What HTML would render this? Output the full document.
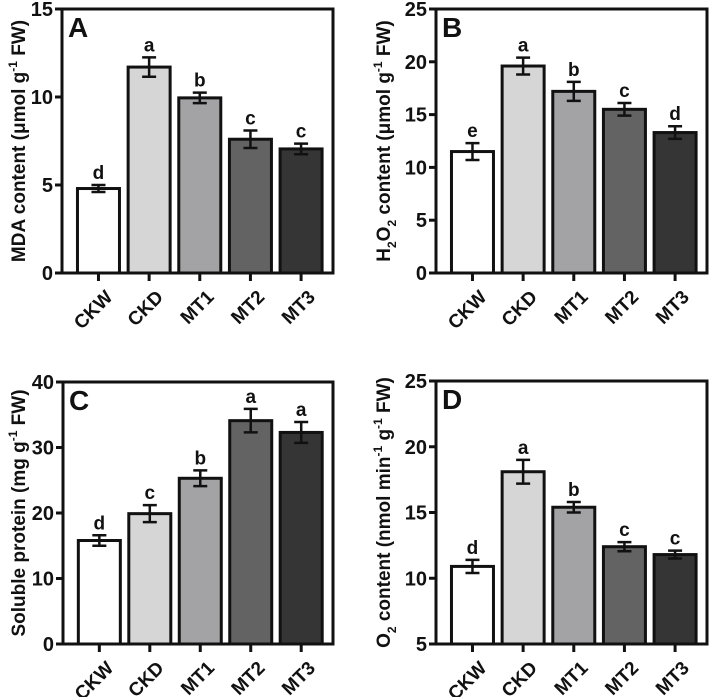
<!DOCTYPE html>
<html><head><meta charset="utf-8"><style>
body{margin:0;background:#fff}
svg{display:block;font-family:"Liberation Sans",Arial,sans-serif;font-weight:bold}
</style></head><body>
<svg id="c" width="709" height="697" viewBox="0 0 709 697"></svg>
<script>
const categories=["CKW","CKD","MT1","MT2","MT3"];
const colors=["#ffffff","#d6d6d6","#a3a3a6","#636363","#353535"];
const valuesA=[4.8,11.7,9.95,7.6,7.05];
const errA=[0.2,0.55,0.3,0.5,0.3];
const lettersA=["d","a","b","c","c"];
const ticksA=[0,5,10,15];
const valuesB=[11.5,19.6,17.2,15.5,13.3];
const errB=[0.8,0.8,0.9,0.6,0.6];
const lettersB=["e","a","b","c","d"];
const ticksB=[0,5,10,15,20,25];
const valuesC=[15.8,19.9,25.3,34.1,32.3];
const errC=[0.8,1.3,1.2,1.8,1.6];
const lettersC=["d","c","b","a","a"];
const ticksC=[0,10,20,30,40];
const valuesD=[10.9,18.1,15.4,12.4,11.8];
const errD=[0.5,0.9,0.4,0.35,0.3];
const lettersD=["d","a","b","c","c"];
const ticksD=[5,10,15,20,25];

const NS="http://www.w3.org/2000/svg";
const svg=document.getElementById('c');
function mk(tag,attrs,parent,text){const e=document.createElementNS(NS,tag);for(const k in attrs)e.setAttribute(k,attrs[k]);if(text!==undefined)e.textContent=text;parent.appendChild(e);return e;}

function panel(id,L,R,T,B,ticks,vals,errs,lets,ylabelHTML,ylx){
  const g=mk('g',{},svg);
  
  
  const y0=ticks[0],y1=ticks[ticks.length-1];
  const ys=v=>B-(v-y0)/(y1-y0)*(B-T);
  const step=(R-L)/5.35, bw=42;
  const xc=i=>L+step*(i+0.72);
  vals.forEach((v,i)=>{
    const bar=mk('rect',{x:xc(i)-bw/2,y:ys(v),width:bw,height:B-ys(v),fill:colors[i],stroke:'#111','stroke-width':3},g);
    
    
    const eb=mk('path',{d:`M${xc(i)} ${ys(v+errs[i])}V${ys(v-errs[i])}M${xc(i)-7} ${ys(v+errs[i])}H${xc(i)+7}M${xc(i)-7} ${ys(v-errs[i])}H${xc(i)+7}`,stroke:'#111','stroke-width':2.5,fill:'none'},g);
    
    
    const lt=mk('text',{x:xc(i),y:ys(v+errs[i])-6,'text-anchor':'middle','font-size':19,fill:'#111'},g,lets[i]);
    
    
    mk('line',{x1:xc(i),x2:xc(i),y1:B,y2:B+8,stroke:'#111','stroke-width':3},g);
    const cx=xc(i)+6,cy=B+16;
    const tl=mk('text',{x:cx,y:cy,'text-anchor':'end','font-size':19,fill:'#111',transform:`rotate(-45 ${cx} ${cy})`,dy:13},g,categories[i]);
    
    
  });
  const fr=mk('rect',{x:L,y:T,width:R-L,height:B-T,fill:'none',stroke:'#111','stroke-width':3},g);
  
  
  ticks.forEach(t=>{
    mk('line',{x1:L-7,x2:L,y1:ys(t),y2:ys(t),stroke:'#111','stroke-width':3},g);
    const tt=mk('text',{x:L-9,y:ys(t)+7,'text-anchor':'end','font-size':20,fill:'#111'},g,t);
    
    
  });
  const pl=mk('text',{x:L+6,y:T+28,'font-size':28,fill:'#111'},g,id);
  
  
  const yl=mk('text',{x:ylx,y:(T+B)/2,'text-anchor':'middle','font-size':19,fill:'#111',transform:`rotate(-90 ${ylx} ${(T+B)/2})`},g);
  yl.innerHTML=ylabelHTML;
  
  
}
panel('A',62,333,9,273,ticksA,valuesA,errA,lettersA,'MDA content (μmol g<tspan dy="-8" font-size="12">-1</tspan><tspan dy="8"> FW)</tspan>',25);
panel('B',436,707,9,273,ticksB,valuesB,errB,lettersB,'H<tspan dy="6" font-size="12">2</tspan><tspan dy="-6">O</tspan><tspan dy="6" font-size="12">2</tspan><tspan dy="-6"> content (μmol g</tspan><tspan dy="-8" font-size="12">-1</tspan><tspan dy="8"> FW)</tspan>',390);
panel('C',63,333,382,644,ticksC,valuesC,errC,lettersC,'Soluble protein  (mg g<tspan dy="-8" font-size="12">-1</tspan><tspan dy="8"> FW)</tspan>',25);
panel('D',436,707,381,644,ticksD,valuesD,errD,lettersD,'O<tspan dy="6" font-size="12">2</tspan><tspan dy="-6"> content (nmol min</tspan><tspan dy="-8" font-size="12">-1</tspan><tspan dy="8"> g</tspan><tspan dy="-8" font-size="12">-1</tspan><tspan dy="8"> FW)</tspan>',390);
</script>
</body></html>
